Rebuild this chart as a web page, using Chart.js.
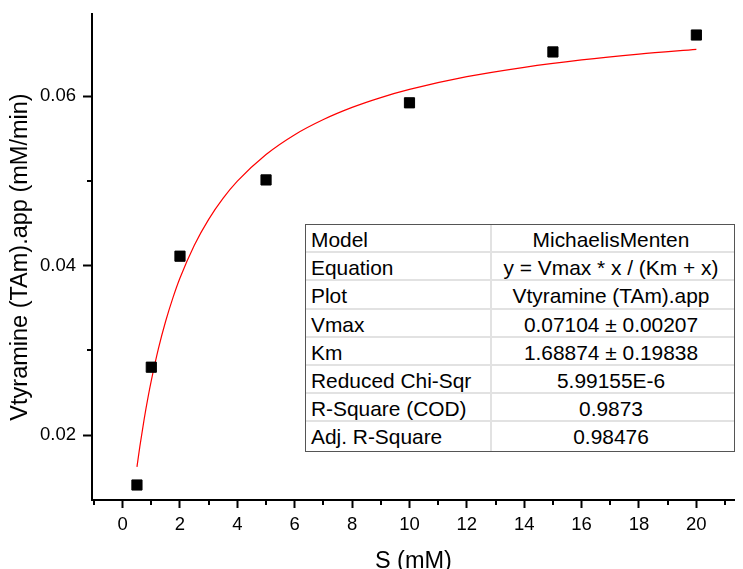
<!DOCTYPE html>
<html><head><meta charset="utf-8">
<script src="https://cdn.jsdelivr.net/npm/chart.js@4"></script>
<style>
html,body{margin:0;padding:0;background:#fff;}
#wrap{position:relative;width:743px;height:569px;overflow:hidden;}
#c{position:absolute;left:0;top:0;}
#tbl{position:absolute;left:305px;top:224px;width:428px;border:1.5px solid #555;display:grid;grid-template-columns:186px 1fr;grid-auto-rows:28.2px;font-family:"Liberation Sans",Arial,sans-serif;font-size:20.9px;color:#000;background:#fff;}
#tbl div{box-sizing:border-box;border-bottom:2px solid #e2e2e2;padding:4px 4px 0 5px;line-height:22px;white-space:nowrap;overflow:hidden;}
#tbl div.k{border-right:2px solid #e2e2e2;}
#tbl div.v{text-align:center;padding-left:0;}
#tbl div.last{border-bottom:none;}
</style>
</head><body>
<div id="wrap"><canvas id="c" width="743" height="569"></canvas><div id="tbl"></div></div>
<script>
// Measured data points
const sValues = [0.5, 1, 2, 5, 10, 15, 20];
const vValues = [0.0141, 0.0280, 0.0411, 0.0501, 0.0592, 0.0652, 0.0672];
// Fitted curve
const fitS = [0.5, 0.6, 0.75, 0.9, 1, 1.25, 1.5, 1.75, 2, 2.5, 3, 3.5, 4, 5, 6, 7, 8, 9, 10, 12, 14, 16, 18, 20];
const fitV = [0.01623, 0.01862, 0.02185, 0.02470, 0.02642, 0.03022, 0.03342, 0.03615, 0.03852, 0.04240, 0.04545, 0.04792, 0.04995, 0.05310, 0.05544, 0.05723, 0.05866, 0.05982, 0.06078, 0.06228, 0.06339, 0.06426, 0.06495, 0.06551];
// Ticks
const xTickLabels = [0, 2, 4, 6, 8, 10, 12, 14, 16, 18, 20];
const xMinorTicks = [-1, 1, 3, 5, 7, 9, 11, 13, 15, 17, 19, 21];
const yTickLabels = [0.02, 0.04, 0.06];
const yMinorTicks = [0.03, 0.05];
// Fit table
const tableKeys = ["Model", "Equation", "Plot", "Vmax", "Km", "Reduced Chi-Sqr", "R-Square (COD)", "Adj. R-Square"];
const tableVals = ["MichaelisMenten", "y = Vmax * x / (Km + x)", "Vtyramine (TAm).app", "0.07104 \u00b1 0.00207", "1.68874 \u00b1 0.19838", "5.99155E-6", "0.9873", "0.98476"];

const tbl = document.getElementById('tbl');
tableKeys.forEach((k, i) => {
  const a = document.createElement('div'); a.className = 'k' + (i === tableKeys.length - 1 ? ' last' : ''); a.textContent = k;
  const b = document.createElement('div'); b.className = 'v' + (i === tableKeys.length - 1 ? ' last' : ''); b.textContent = tableVals[i];
  tbl.appendChild(a); tbl.appendChild(b);
});

Chart.defaults.font.family = '"Liberation Sans", Arial, sans-serif';
Chart.defaults.color = '#000';

const minorTicks = {
  id: 'minorTicks',
  afterDraw(chart) {
    const {ctx, chartArea} = chart;
    const x = chart.scales.x, y = chart.scales.y;
    ctx.save();
    ctx.strokeStyle = '#000';
    ctx.lineWidth = 2;
    xMinorTicks.forEach(v => {
      if (v < x.min || v > x.max) return;
      const px = Math.round(x.getPixelForValue(v));
      ctx.beginPath(); ctx.moveTo(px, chartArea.bottom); ctx.lineTo(px, chartArea.bottom + 5); ctx.stroke();
    });
    yMinorTicks.forEach(v => {
      if (v < y.min || v > y.max) return;
      const py = Math.round(y.getPixelForValue(v));
      ctx.beginPath(); ctx.moveTo(chartArea.left, py); ctx.lineTo(chartArea.left - 5, py); ctx.stroke();
    });
    ctx.restore();
  }
};

new Chart(document.getElementById('c'), {
  type: 'scatter',
  data: {
    datasets: [
      {
        type: 'line',
        label: 'fit',
        data: fitS.map((s, i) => ({x: s, y: fitV[i]})),
        borderColor: '#ff0000',
        borderWidth: 1.2,
        pointRadius: 0,
        fill: false,
        cubicInterpolationMode: 'monotone',
        order: 2
      },
      {
        label: 'data',
        data: sValues.map((s, i) => ({x: s, y: vValues[i]})),
        pointStyle: 'rect',
        pointRadius: 7.2,
        backgroundColor: '#000',
        borderColor: '#000',
        borderWidth: 1,
        order: 1
      }
    ]
  },
  options: {
    responsive: false,
    animation: false,
    layout: {padding: {top: 14, right: 0, left: 0, bottom: 0}},
    plugins: {legend: {display: false}, tooltip: {enabled: false}},
    scales: {
      x: {
        type: 'linear',
        position: 'bottom',
        min: -1.067,
        max: 21.34,
        afterBuildTicks: s => { s.ticks = xTickLabels.map(v => ({value: v})); },
        afterFit: s => { s.height = 69; s.paddingLeft = 0; s.paddingRight = 0; },
        grid: {display: true, drawOnChartArea: false, drawTicks: true, tickLength: 8, tickColor: '#000', tickWidth: 2},
        border: {display: true, color: '#000', width: 2},
        ticks: {font: {size: 18.5}, padding: 6, color: '#000', maxRotation: 0, autoSkip: false},
        title: {display: true, text: 'S (mM)', font: {size: 23.5, lineHeight: 0.65}, padding: {top: 0, bottom: 0}, color: '#000'}
      },
      y: {
        type: 'linear',
        min: 0.01233,
        max: 0.06968,
        afterBuildTicks: s => { s.ticks = yTickLabels.map(v => ({value: v})); },
        afterFit: s => { s.width = 92; s.paddingTop = 0; s.paddingBottom = 0; },
        grid: {display: true, drawOnChartArea: false, drawTicks: true, tickLength: 9, tickColor: '#000', tickWidth: 2},
        border: {display: true, color: '#000', width: 2},
        ticks: {font: {size: 18.5}, padding: 7, color: '#000', autoSkip: false, callback: v => v.toFixed(2)},
        title: {display: true, text: 'Vtyramine (TAm).app (mM/min)', font: {size: 23.5, lineHeight: 1.2}, padding: {top: 6, bottom: 0}, color: '#000'}
      }
    }
  },
  plugins: [minorTicks]
});
</script>
</body></html>
